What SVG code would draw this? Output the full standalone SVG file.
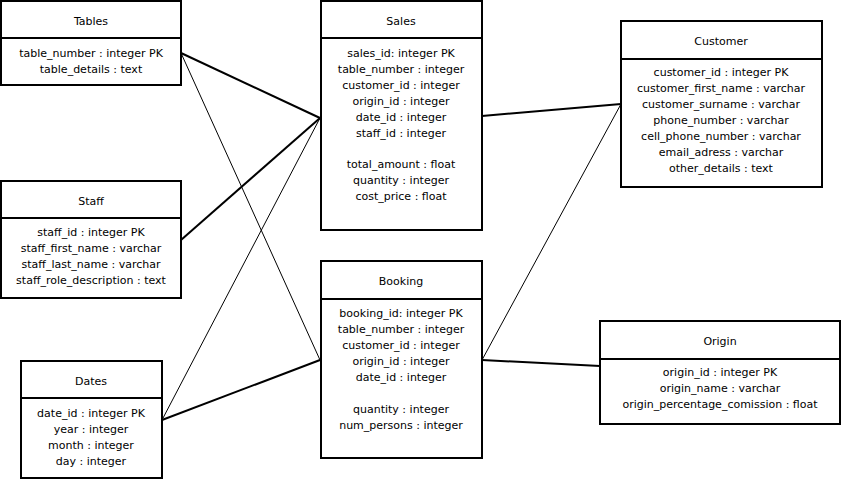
<svg xmlns="http://www.w3.org/2000/svg" width="844" height="482" viewBox="0 0 844 482">
<style>
.box{fill:#fff;stroke:#000;stroke-width:2}
.div{stroke:#000;stroke-width:2}
text{font-family:"DejaVu Sans","Liberation Sans",sans-serif;font-size:11px;fill:#000;text-anchor:middle}
.thick{stroke:#000;stroke-width:2;fill:none}
.thin{stroke:#000;stroke-width:1;fill:none}
</style>
<rect width="844" height="482" fill="#fff"/>
<g id="connectors">
<line class="thick" x1="181" y1="53" x2="320" y2="118"/>
<line class="thin" x1="181" y1="53" x2="320" y2="360"/>
<line class="thick" x1="181" y1="240" x2="320" y2="118"/>
<line class="thin" x1="162" y1="420" x2="320" y2="118"/>
<line class="thick" x1="162" y1="420" x2="320" y2="360"/>
<line class="thick" x1="482" y1="116" x2="621" y2="104"/>
<line class="thin" x1="482" y1="360" x2="621" y2="104"/>
<line class="thick" x1="482" y1="360" x2="600" y2="366"/>
</g>
<g id="tables">
<rect class="box" x="1" y="1" width="180" height="84"/>
<line class="div" x1="1" y1="38" x2="181" y2="38"/>
<text x="91" y="25">Tables</text>
<text x="91" y="57">table_number : integer PK</text>
<text x="91" y="73">table_details : text</text>
</g>
<g id="sales">
<rect class="box" x="321" y="1" width="161" height="229"/>
<line class="div" x1="321" y1="38" x2="482" y2="38"/>
<text x="401" y="25">Sales</text>
<text x="401" y="57">sales_id: integer PK</text>
<text x="401" y="73">table_number : integer</text>
<text x="401" y="89">customer_id : integer</text>
<text x="401" y="105">origin_id : integer</text>
<text x="401" y="121">date_id : integer</text>
<text x="401" y="137">staff_id : integer</text>
<text x="401" y="168">total_amount : float</text>
<text x="401" y="184">quantity : integer</text>
<text x="401" y="200">cost_price : float</text>
</g>
<g id="customer">
<rect class="box" x="621" y="21" width="201" height="166"/>
<line class="div" x1="621" y1="59" x2="822" y2="59"/>
<text x="721" y="45">Customer</text>
<text x="721" y="76">customer_id : integer PK</text>
<text x="721" y="92">customer_first_name : varchar</text>
<text x="721" y="108">customer_surname : varchar</text>
<text x="721" y="124">phone_number : varchar</text>
<text x="721" y="140">cell_phone_number : varchar</text>
<text x="721" y="156">email_adress : varchar</text>
<text x="721" y="172">other_details : text</text>
</g>
<g id="staff">
<rect class="box" x="1" y="181" width="180" height="117"/>
<line class="div" x1="1" y1="218" x2="181" y2="218"/>
<text x="91" y="205">Staff</text>
<text x="91" y="236">staff_id : integer PK</text>
<text x="91" y="252">staff_first_name : varchar</text>
<text x="91" y="268">staff_last_name : varchar</text>
<text x="91" y="284">staff_role_description : text</text>
</g>
<g id="booking">
<rect class="box" x="321" y="261" width="161" height="197"/>
<line class="div" x1="321" y1="299" x2="482" y2="299"/>
<text x="401" y="285">Booking</text>
<text x="401" y="317">booking_id: integer PK</text>
<text x="401" y="333">table_number : integer</text>
<text x="401" y="349">customer_id : integer</text>
<text x="401" y="365">origin_id : integer</text>
<text x="401" y="381">date_id : integer</text>
<text x="401" y="413">quantity : integer</text>
<text x="401" y="429">num_persons : integer</text>
</g>
<g id="origin">
<rect class="box" x="600" y="321" width="240" height="103"/>
<line class="div" x1="600" y1="359" x2="840" y2="359"/>
<text x="720" y="345">Origin</text>
<text x="720" y="376">origin_id : integer PK</text>
<text x="720" y="392">origin_name : varchar</text>
<text x="720" y="408">origin_percentage_comission : float</text>
</g>
<g id="dates">
<rect class="box" x="21" y="361" width="141" height="117"/>
<line class="div" x1="21" y1="398" x2="162" y2="398"/>
<text x="91" y="385">Dates</text>
<text x="91" y="417">date_id : integer PK</text>
<text x="91" y="433">year : integer</text>
<text x="91" y="449">month : integer</text>
<text x="91" y="465">day : integer</text>
</g>
</svg>
